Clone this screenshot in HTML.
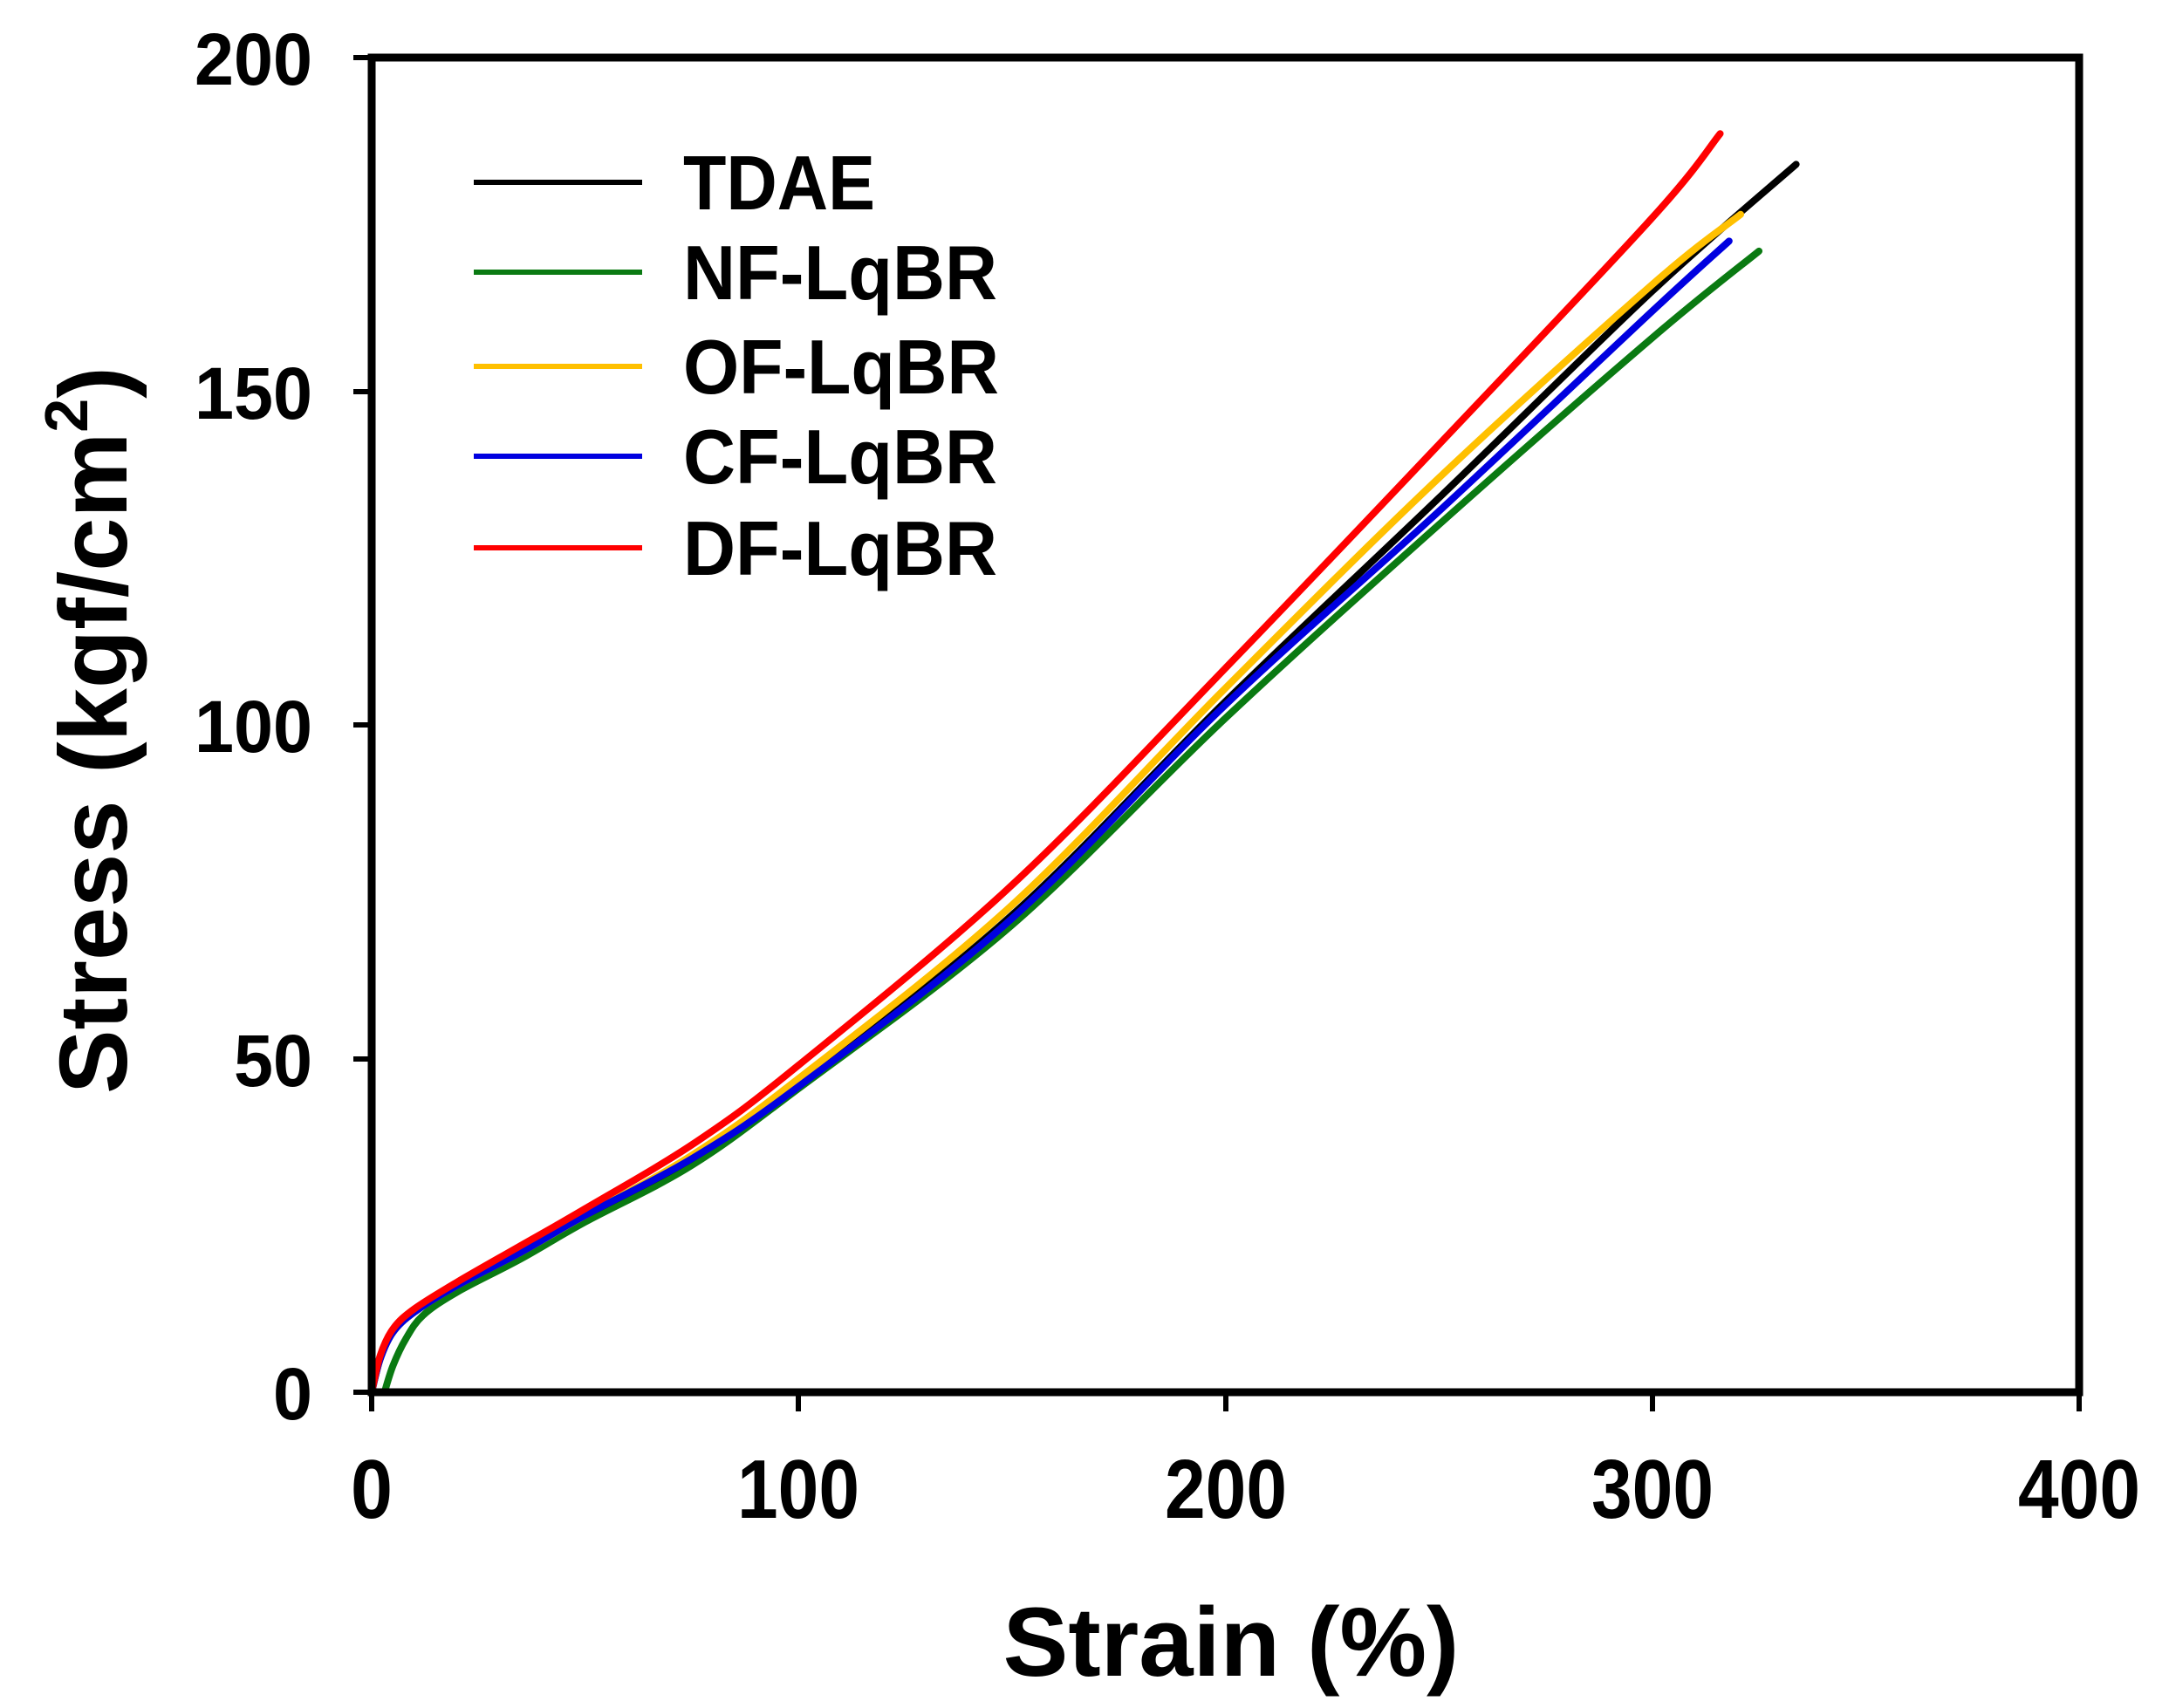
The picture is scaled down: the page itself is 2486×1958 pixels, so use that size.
<!DOCTYPE html>
<html><head><meta charset="utf-8"><style>
html,body{margin:0;padding:0;background:#fff;}
svg{display:block;}
text{font-family:"Liberation Sans",Arial,sans-serif;font-weight:bold;fill:#000;}
</style></head><body>
<svg id="s" width="2486" height="1958" viewBox="0 0 2486 1958" xmlns="http://www.w3.org/2000/svg">
<rect width="2486" height="1958" fill="#fff"/>
<g id="curves" fill="none" stroke-width="8" stroke-linejoin="round" stroke-linecap="round"></g>
<rect x="426" y="66" width="1957" height="1530" fill="none" stroke="#000" stroke-width="9"/>
<g stroke="#000" stroke-width="6">
<line x1="405" y1="66" x2="426" y2="66"/><line x1="405" y1="449" x2="426" y2="449"/>
<line x1="405" y1="831" x2="426" y2="831"/><line x1="405" y1="1214" x2="426" y2="1214"/>
<line x1="405" y1="1596" x2="426" y2="1596"/>
<line x1="426" y1="1596" x2="426" y2="1618"/><line x1="915" y1="1596" x2="915" y2="1618"/>
<line x1="1405" y1="1596" x2="1405" y2="1618"/><line x1="1894" y1="1596" x2="1894" y2="1618"/>
<line x1="2383" y1="1596" x2="2383" y2="1618"/>
</g>
<g font-size="84" text-anchor="end">
<text x="358" y="97" textLength="135" lengthAdjust="spacingAndGlyphs">200</text>
<text x="358" y="480" textLength="135" lengthAdjust="spacingAndGlyphs">150</text>
<text x="358" y="862" textLength="135" lengthAdjust="spacingAndGlyphs">100</text>
<text x="358" y="1245" textLength="90" lengthAdjust="spacingAndGlyphs">50</text>
<text x="358" y="1627" textLength="45" lengthAdjust="spacingAndGlyphs">0</text>
</g>
<g font-size="96" text-anchor="middle">
<text x="426" y="1740" textLength="48" lengthAdjust="spacingAndGlyphs">0</text>
<text x="915" y="1740" textLength="140" lengthAdjust="spacingAndGlyphs">100</text>
<text x="1405" y="1740" textLength="140" lengthAdjust="spacingAndGlyphs">200</text>
<text x="1894" y="1740" textLength="140" lengthAdjust="spacingAndGlyphs">300</text>
<text x="2383" y="1740" textLength="140" lengthAdjust="spacingAndGlyphs">400</text>
</g>
<text x="1411" y="1921" font-size="112" text-anchor="middle">Strain (%)</text>
<text transform="translate(145,837) rotate(-90)" font-size="110" text-anchor="middle">Stress (kgf/cm<tspan font-size="70" dy="-45">2</tspan><tspan dy="45">)</tspan></text>
<g stroke-width="6">
<line x1="543" y1="209" x2="736" y2="209" stroke="#000"/>
<line x1="543" y1="312" x2="736" y2="312" stroke="#0a7a12"/>
<line x1="543" y1="420" x2="736" y2="420" stroke="#ffc000"/>
<line x1="543" y1="523" x2="736" y2="523" stroke="#0000e0"/>
<line x1="543" y1="628" x2="736" y2="628" stroke="#ff0000"/>
</g>
<g font-size="88">
<text x="783" y="240" textLength="220" lengthAdjust="spacingAndGlyphs">TDAE</text>
<text x="783" y="343" textLength="360" lengthAdjust="spacingAndGlyphs">NF-LqBR</text>
<text x="783" y="451" textLength="362" lengthAdjust="spacingAndGlyphs">OF-LqBR</text>
<text x="783" y="554" textLength="360" lengthAdjust="spacingAndGlyphs">CF-LqBR</text>
<text x="783" y="659" textLength="360" lengthAdjust="spacingAndGlyphs">DF-LqBR</text>
</g>
</svg>
<script>
var X=function(s){return 426+s*4.8925;},Y=function(v){return 1596-v*7.65;};
var series=[
["#0a7a12",[[3,0],[5,4],[8,8],[12,11.5],[20,15],[35,20],[50,25.5],[75,34],[100,45.5],[150,70],[200,101],[250,130],[300,158],[325,171]]],
["#000",[[0,0],[2,5],[5,9],[10,12],[20,16],[35,21],[50,26.5],[75,35],[100,46],[150,71.5],[200,103.5],[250,134],[300,165],[333.7,184]]],
["#ffc000",[[0,0],[2,5],[5,9],[10,12],[20,16],[35,21],[50,26.5],[75,35.5],[100,47],[150,73],[200,105.5],[250,137],[300,166],[320.7,176.5]]],
["#0000e0",[[0,0],[2,5],[5,9],[10,12],[20,16],[35,21],[50,26.5],[75,35],[100,45.8],[150,71],[200,103],[250,132],[300,162],[318,172.5]]],
["#ff0000",[[0,0],[2,5.5],[5,9.5],[10,12.5],[20,16.5],[35,22],[50,27.5],[76,37.5],[100,49],[150,76],[200,108.5],[250,142],[300,176],[315.9,188.6]]]
];
function cr(p){var d="M"+X(p[0][0])+","+Y(p[0][1]);
for(var i=0;i<p.length-1;i++){var p0=p[i-1]||p[i],p1=p[i],p2=p[i+1],p3=p[i+2]||p2;
var a=[X(p0[0]),Y(p0[1])],b=[X(p1[0]),Y(p1[1])],c=[X(p2[0]),Y(p2[1])],e=[X(p3[0]),Y(p3[1])];
d+=" C"+(b[0]+(c[0]-a[0])/6)+","+(b[1]+(c[1]-a[1])/6)+" "+(c[0]-(e[0]-b[0])/6)+","+(c[1]-(e[1]-b[1])/6)+" "+c[0]+","+c[1];}
return d;}
var g=document.getElementById("curves");
series.forEach(function(s){var p=document.createElementNS("http://www.w3.org/2000/svg","path");p.setAttribute("d",cr(s[1]));p.setAttribute("stroke",s[0]);g.appendChild(p);});
</script>
</body></html>
